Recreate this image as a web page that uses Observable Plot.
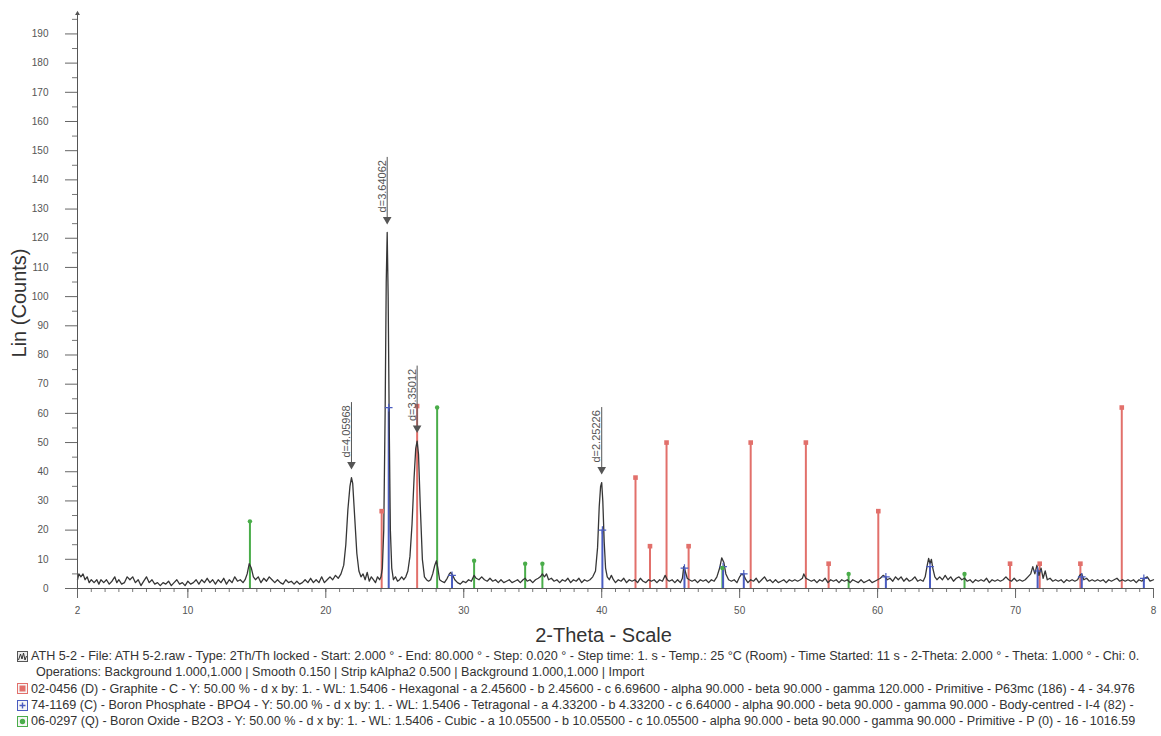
<!DOCTYPE html>
<html>
<head>
<meta charset="utf-8">
<script src="https://cdn.jsdelivr.net/npm/d3@7"></script>
<script src="https://cdn.jsdelivr.net/npm/@observablehq/plot@0.6"></script>
<style>
  html, body { margin: 0; padding: 0; background: #fff; }
  body { font-family: "Liberation Sans", Arial, sans-serif; width: 1161px; height: 736px; overflow: hidden; }
  #chart svg { display: block; }
  #legend { color: #333; font-size: 12.6px; }
  .row { height: 16.3px; line-height: 16.3px; white-space: nowrap; display: flex; align-items: center; }
  .row svg { flex: none; margin: 0 3px 0 17px; }
  .indent { display: inline-block; flex: none; width: 36px; }
</style>
</head>
<body>
<div id="chart"></div>
<div id="legend"></div>
<script>
// ---------------- data ----------------
// measured XRD pattern (2-theta in degrees, Lin counts)
const pattern = [
 [2.0,3],[2.1,5],[2.25,4],[2.4,5],[2.55,3],[2.7,4],[2.85,2],[3.0,3],[3.2,2],[3.4,3],[3.55,1.5],[3.7,3],[3.9,2],[4.1,3],[4.3,1.5],[4.5,2.5],[4.7,4],[4.85,2],
 [5.0,3],[5.2,1.5],[5.4,2],[5.6,4],[5.8,3],[6.0,4],[6.2,2],[6.4,3],[6.6,1],[6.8,2.5],[7.0,4],[7.2,2],[7.4,3],[7.6,1.5],[7.8,2],[8.0,1],[8.2,2],[8.4,1.5],
 [8.6,2.5],[8.8,1],[9.0,2],[9.2,3],[9.4,1.5],[9.6,2],[9.8,1],[10.0,2.5],[10.2,1.5],[10.4,2],[10.6,3],[10.8,1.5],[11.0,3],[11.2,2],[11.4,3.5],[11.6,2],
 [11.8,3],[12.0,1.5],[12.2,3],[12.4,2],[12.6,3.5],[12.8,1.5],[13.0,3],[13.2,2],[13.4,4],[13.6,2.5],[13.8,3],[14.0,2],[14.15,3],[14.3,5],[14.45,8.5],
 [14.6,7],[14.75,4],[14.9,3],[15.1,4],[15.3,2],[15.5,3.5],[15.7,2.5],[15.9,4],[16.1,3],[16.3,2],[16.5,3],[16.7,2],[16.9,1.5],[17.1,3],[17.3,2],[17.5,2.5],
 [17.7,1.5],[17.9,2.5],[18.1,1.5],[18.3,2],[18.5,3],[18.7,2],[18.9,3.5],[19.1,2],[19.3,3],[19.5,2],[19.7,4],[19.9,2],[20.1,3],[20.3,4],[20.5,3],[20.7,4.5],
 [20.9,3.5],[21.1,5],[21.3,8],[21.45,15],[21.6,27],[21.75,35],[21.86,38],[21.95,36],[22.1,24],[22.25,12],[22.4,6],[22.55,4],[22.7,5],[22.85,3],[23.0,5.5],
 [23.15,2.5],[23.3,4],[23.45,3],[23.6,2],[23.75,4],[23.9,3],[24.0,4],[24.1,7],[24.2,20],[24.3,60],[24.38,105],[24.45,122],[24.52,100],[24.6,55],[24.68,20],
 [24.78,7],[24.9,3],[25.05,4],[25.2,2.5],[25.35,3],[25.5,4],[25.65,3],[25.8,4],[25.95,6],[26.1,11],[26.25,22],[26.4,38],[26.52,48],[26.62,50.5],[26.72,46],
 [26.85,28],[27.0,10],[27.15,4],[27.3,3],[27.45,2.5],[27.6,3],[27.75,5],[27.9,8],[28.02,9.5],[28.12,7],[28.25,3],[28.4,2.5],[28.6,2],[28.8,3.5],[28.95,5],
 [29.05,5.5],[29.2,4.5],[29.35,3],[29.55,2],[29.75,1.5],[29.95,2.5],[30.15,2],[30.35,3],[30.55,2.5],[30.75,4.5],[30.9,3.5],[31.1,3],[31.3,4],[31.5,3],
 [31.7,2.5],[31.9,3.5],[32.1,2.5],[32.3,3],[32.5,2],[32.7,3],[32.9,2],[33.1,2.5],[33.3,3],[33.5,2],[33.7,2.5],[33.9,3],[34.1,2],[34.3,3],[34.45,3.5],
 [34.6,2.5],[34.8,3],[35.0,2],[35.2,3],[35.4,3.5],[35.55,4],[35.7,5],[35.85,4],[36.0,5],[36.15,3],[36.35,3.5],[36.55,2.5],[36.75,3],[36.95,2],[37.15,3],
 [37.35,2.5],[37.55,3.5],[37.75,2],[37.95,3],[38.15,2.5],[38.35,3.5],[38.55,2],[38.75,3],[38.95,2.5],[39.15,3],[39.35,4],[39.55,6],[39.7,14],[39.82,28],
 [39.92,35],[40.0,36.3],[40.08,30],[40.18,16],[40.28,7],[40.4,4],[40.55,3],[40.7,4.5],[40.85,3],[41.0,2],[41.2,3],[41.4,2.5],[41.6,3.5],[41.8,2],[42.0,3],
 [42.2,2.5],[42.4,3],[42.6,2],[42.8,3.5],[43.0,2.5],[43.2,2],[43.4,3],[43.6,2.5],[43.8,3],[44.0,2],[44.2,3],[44.4,2.5],[44.6,4.5],[44.75,3],[44.9,2.5],
 [45.1,3],[45.3,2],[45.5,3],[45.7,2],[45.85,3.5],[45.95,7.5],[46.05,6],[46.2,3.5],[46.35,3],[46.55,2.5],[46.75,3],[46.95,2],[47.15,3],[47.35,2.5],[47.55,3],
 [47.75,2],[47.95,3],[48.15,2.5],[48.35,4],[48.55,7],[48.7,10.5],[48.85,9],[49.0,5],[49.2,3],[49.4,2.5],[49.6,3],[49.8,2],[50.0,4],[50.15,5],[50.3,4.5],
 [50.45,3],[50.6,2],[50.8,3],[51.0,2.5],[51.2,3.5],[51.4,2],[51.6,3],[51.8,4],[52.0,2.5],[52.2,3],[52.4,2],[52.6,3],[52.8,2],[53.0,2.5],[53.2,3],[53.4,2],
 [53.6,3],[53.8,2.5],[54.0,3],[54.2,2.5],[54.4,3],[54.55,3.5],[54.65,5],[54.8,3.5],[55.0,3],[55.2,2.5],[55.4,3],[55.6,2],[55.8,3],[56.0,2.5],[56.2,3.5],
 [56.4,2],[56.6,3],[56.8,2.5],[57.0,3],[57.2,2],[57.4,3],[57.6,2.5],[57.8,3],[58.0,2],[58.2,3],[58.4,2.5],[58.6,2],[58.8,3],[59.0,2],[59.2,2.5],[59.4,3],
 [59.6,2],[59.8,2.5],[60.0,3],[60.2,3.5],[60.4,4.5],[60.55,4],[60.7,3],[60.9,3.5],[61.1,2.5],[61.3,4],[61.5,3],[61.7,4],[61.9,2.5],[62.1,3.5],[62.3,2.5],
 [62.5,3],[62.7,4],[62.9,2.5],[63.1,3],[63.3,2.5],[63.45,4],[63.6,8],[63.7,10.3],[63.8,8.5],[63.9,10],[64.0,7],[64.15,4],[64.3,3],[64.5,4],[64.7,3],
 [64.9,4.5],[65.1,3],[65.3,4],[65.5,2.5],[65.7,3.5],[65.9,4],[66.1,3],[66.3,3.5],[66.5,2.5],[66.7,3],[66.9,2],[67.1,3],[67.3,2.5],[67.5,3],[67.7,2.5],
 [67.9,3.5],[68.1,2],[68.3,3],[68.5,2.5],[68.7,3],[68.9,2.5],[69.1,3],[69.3,4],[69.5,3],[69.7,2.5],[69.9,3.5],[70.1,2.5],[70.3,3],[70.5,2.5],[70.7,3],
 [70.9,4],[71.1,5],[71.25,7.5],[71.4,5],[71.55,8],[71.7,4.5],[71.85,7],[72.0,3.5],[72.15,6],[72.3,3],[72.5,3.5],[72.7,2.5],[72.9,3],[73.1,2.5],[73.3,3],
 [73.5,2],[73.7,3],[73.9,2.5],[74.1,3],[74.3,2.5],[74.5,3],[74.65,4.5],[74.8,5],[74.95,3],[75.15,3.5],[75.35,2.5],[75.55,3],[75.75,2.5],[75.95,3],
 [76.15,2.5],[76.35,3],[76.55,2],[76.75,3],[76.95,2.5],[77.15,3],[77.35,3.5],[77.55,2.5],[77.75,3],[77.95,2.5],[78.15,3],[78.35,2.5],[78.55,3],[78.75,2],
 [78.95,3],[79.15,2.5],[79.35,3.5],[79.55,4],[79.75,2.5],[80.0,3]
];

// reference patterns (stick positions in degrees 2-theta, heights in counts)
const graphitePos = [24.05, 26.62, 42.45, 43.5, 44.7, 46.3, 50.8, 54.8, 56.45, 60.05, 69.6, 71.75, 74.7, 77.7];
const graphiteInt = [26.5, 62.5, 38, 14.5, 50, 14.5, 50, 50, 8.5, 26.5, 8.5, 8.5, 8.5, 62];
const bpo4Pos = [24.56, 29.15, 40.05, 46.0, 48.8, 50.3, 60.6, 63.8, 71.6, 74.8, 79.3];
const bpo4Int = [62, 4.5, 20, 7, 7.5, 5, 4, 7.5, 6, 4, 3.5];
const b2o3Pos = [14.5, 28.07, 30.75, 34.45, 35.7, 48.75, 57.9, 66.3];
const b2o3Int = [23, 62, 9.5, 8.5, 8.5, 7, 5, 5];

// peak annotations
const peakPos = [21.86, 24.45, 26.62, 40.0];
const peakCounts = [38, 122, 50.5, 36.3];
const peakLabels = ["d=4.05968", "d=3.64062", "d=3.35012", "d=2.25226"];

// axes
const xMajorTicks = [2, 10, 20, 30, 40, 50, 60, 70, 80];
const xMajorLabels = ["2", "10", "20", "30", "40", "50", "60", "70", "8"];
const xMinorTicks = d3.range(2, 81, 1);
const yMajorTicks = d3.range(0, 191, 10);
const yMinorTicks = d3.range(5, 196, 10);
const xTitle = "2-Theta - Scale";
const yTitle = "Lin (Counts)";

// legend
const legendTexts = [
  "ATH 5-2 - File: ATH 5-2.raw - Type: 2Th/Th locked - Start: 2.000 ° - End: 80.000 ° - Step: 0.020 ° - Step time: 1. s - Temp.: 25 °C (Room) - Time Started: 11 s - 2-Theta: 2.000 ° - Theta: 1.000 ° - Chi: 0.",
  "Operations: Background 1.000,1.000 | Smooth 0.150 | Strip kAlpha2 0.500 | Background 1.000,1.000 | Import",
  "02-0456 (D) - Graphite - C - Y: 50.00 % - d x by: 1. - WL: 1.5406 - Hexagonal - a 2.45600 - b 2.45600 - c 6.69600 - alpha 90.000 - beta 90.000 - gamma 120.000 - Primitive - P63mc (186) - 4 - 34.976",
  "74-1169 (C) - Boron Phosphate - BPO4 - Y: 50.00 % - d x by: 1. - WL: 1.5406 - Tetragonal - a 4.33200 - b 4.33200 - c 6.64000 - alpha 90.000 - beta 90.000 - gamma 90.000 - Body-centred - I-4 (82) -",
  "06-0297 (Q) - Boron Oxide - B2O3 - Y: 50.00 % - d x by: 1. - WL: 1.5406 - Cubic - a 10.05500 - b 10.05500 - c 10.05500 - alpha 90.000 - beta 90.000 - gamma 90.000 - Primitive - P (0) - 16 - 1016.59"
];

// ---------------- chart ----------------
const FONT = "'Liberation Sans', Arial, sans-serif";
const RED = "#e2706b", BLUE = "#4a5cc0", GREEN = "#4aad4a", LINE = "#363636", AX = "#555";
const W = 1161, H = 648, mL = 77, mR = 8, mT = 13, mB = 60;
const yMax = 197;
const pxPerCount = (H - mT - mB) / yMax;

const sticks = (pos, inten) => pos.map((x, i) => ({x, y: inten[i]}));
const graphite = sticks(graphitePos, graphiteInt);
const bpo4 = sticks(bpo4Pos, bpo4Int);
const b2o3 = sticks(b2o3Pos, b2o3Int);
const peaks = peakPos.map((x, i) => ({x, y: peakCounts[i], label: peakLabels[i]}));

const chart = Plot.plot({
  width: W, height: H,
  marginLeft: mL, marginRight: mR, marginTop: mT, marginBottom: mB,
  style: {fontFamily: FONT, background: "#fff", overflow: "visible"},
  x: {domain: [2, 80]},
  y: {domain: [0, yMax]},
  marks: [
    // minor & major ticks
    Plot.axisX(xMinorTicks, {tickSize: 4, tickFormat: () => "", label: null, stroke: "#777"}),
    Plot.axisX(xMajorTicks, {tickSize: 10, tickPadding: 8, fontSize: 10, label: null, stroke: "#666", fill: AX,
      tickFormat: d => xMajorLabels[xMajorTicks.indexOf(d)]}),
    Plot.axisY(yMinorTicks, {tickSize: 5, tickFormat: () => "", label: null, stroke: "#777"}),
    Plot.axisY(yMajorTicks, {tickSize: 12, tickPadding: 17, fontSize: 10, label: null, stroke: "#666", fill: AX}),
    // reference sticks
    Plot.ruleX(b2o3, {x: "x", y1: 0, y2: "y", stroke: GREEN, strokeWidth: 2}),
    Plot.ruleX(graphite, {x: "x", y1: 0, y2: "y", stroke: RED, strokeWidth: 2}),
    Plot.ruleX(bpo4, {x: "x", y1: 0, y2: "y", stroke: BLUE, strokeWidth: 2}),
    // measured pattern
    Plot.line(pattern, {x: d => d[0], y: d => d[1], stroke: LINE, strokeWidth: 1.3}),
    // stick markers
    Plot.dot(graphite, {x: "x", y: "y", symbol: "square", r: 2.6, fill: RED, stroke: null}),
    Plot.dot(bpo4, {x: "x", y: "y", symbol: "plus", r: 2.6, stroke: BLUE, strokeWidth: 1.2}),
    Plot.dot(b2o3, {x: "x", y: "y", symbol: "circle", r: 2.2, fill: GREEN, stroke: null}),
    // axis lines (y axis ends in a small arrow head)
    Plot.ruleY([0], {stroke: AX, strokeWidth: 1}),
    Plot.ruleX([2], {y1: 0, y2: yMax, stroke: AX, strokeWidth: 1}),
    Plot.dot([yMax], {x: () => 2, y: d => d, symbol: "triangle", r: 1.8, fill: AX, stroke: null}),
    // peak annotations
    Plot.ruleX(peaks, {x: "x", y1: d => d.y + 12 / pxPerCount, y2: d => d.y + 75 / pxPerCount, stroke: "#555", strokeWidth: 1}),
    Plot.dot(peaks, {x: "x", y: "y", dy: -13, symbol: "triangle", rotate: 180, r: 3.2, fill: "#555", stroke: null}),
    Plot.text(peaks, {x: "x", y: "y", text: "label", rotate: -90, textAnchor: "start", lineAnchor: "bottom",
      dy: -20, dx: -1.5, fontSize: 11, fill: "#555"}),
    // titles
    Plot.text([xTitle], {frameAnchor: "bottom", textAnchor: "middle", dx: -12, dy: 53, fontSize: 20, fill: "#333"}),
    Plot.text([yTitle], {frameAnchor: "left", textAnchor: "middle", rotate: -90, dx: -58, dy: 2, fontSize: 20, fill: "#333"})
  ]
});
document.getElementById("chart").appendChild(chart);

// ---------------- legend ----------------
const legend = document.getElementById("legend");
const iconSvg = [
  `<svg width="11" height="11"><rect x="0.5" y="0.5" width="10" height="10" fill="#eee" stroke="#555"/><polyline points="1.5,9 3.5,3 5,8 6.5,2 8,9 9.5,5" fill="none" stroke="#333" stroke-width="1"/></svg>`,
  `<span class="indent"></span>`,
  `<svg width="11" height="11"><rect x="0.5" y="0.5" width="10" height="10" fill="#f6f6f6" stroke="${RED}"/><rect x="2.5" y="2.5" width="6" height="6" fill="${RED}"/></svg>`,
  `<svg width="11" height="11"><rect x="0.5" y="0.5" width="10" height="10" fill="#f6f6f6" stroke="${BLUE}"/><path d="M5.5 2.5V8.5M2.5 5.5H8.5" stroke="${BLUE}" stroke-width="1.4"/></svg>`,
  `<svg width="11" height="11"><rect x="0.5" y="0.5" width="10" height="10" fill="#f6f6f6" stroke="${GREEN}"/><circle cx="5.5" cy="5.5" r="2.7" fill="${GREEN}"/></svg>`
];
legendTexts.forEach((t, i) => {
  const row = document.createElement("div");
  row.className = "row";
  row.innerHTML = iconSvg[i];
  const span = document.createElement("span");
  span.textContent = t;
  row.appendChild(span);
  legend.appendChild(row);
});
</script>
</body>
</html>
